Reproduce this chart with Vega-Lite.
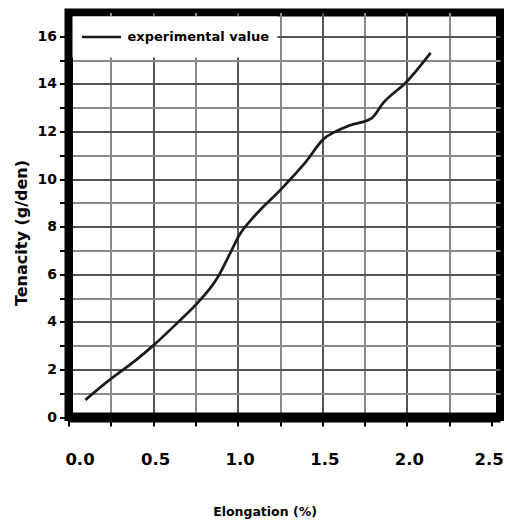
{
  "$schema": "https://vega.github.io/schema/vega-lite/v6.json",
  "width": 431.5,
  "height": 404.5,
  "autosize": {"type": "none"},
  "padding": {"left": 68.5, "top": 12.5, "right": 7, "bottom": 107},
  "background": "white",
  "config": {
    "view": {"stroke": "black", "strokeWidth": 8},
    "font": "DejaVu Sans"
  },
  "data": {
    "values": [
      {"elongation": 0.10, "tenacity": 0.72, "series": "experimental value"},
      {"elongation": 0.25, "tenacity": 1.6, "series": "experimental value"},
      {"elongation": 0.40, "tenacity": 2.4, "series": "experimental value"},
      {"elongation": 0.50, "tenacity": 3.0, "series": "experimental value"},
      {"elongation": 0.65, "tenacity": 4.0, "series": "experimental value"},
      {"elongation": 0.75, "tenacity": 4.7, "series": "experimental value"},
      {"elongation": 0.88, "tenacity": 5.85, "series": "experimental value"},
      {"elongation": 0.96, "tenacity": 6.95, "series": "experimental value"},
      {"elongation": 1.01, "tenacity": 7.65, "series": "experimental value"},
      {"elongation": 1.10, "tenacity": 8.45, "series": "experimental value"},
      {"elongation": 1.26, "tenacity": 9.6, "series": "experimental value"},
      {"elongation": 1.40, "tenacity": 10.7, "series": "experimental value"},
      {"elongation": 1.51, "tenacity": 11.7, "series": "experimental value"},
      {"elongation": 1.58, "tenacity": 12.0, "series": "experimental value"},
      {"elongation": 1.66, "tenacity": 12.25, "series": "experimental value"},
      {"elongation": 1.79, "tenacity": 12.55, "series": "experimental value"},
      {"elongation": 1.86, "tenacity": 13.2, "series": "experimental value"},
      {"elongation": 2.00, "tenacity": 14.1, "series": "experimental value"},
      {"elongation": 2.14, "tenacity": 15.3, "series": "experimental value"}
    ]
  },
  "mark": {"type": "line", "interpolate": "monotone", "strokeWidth": 2.7},
  "encoding": {
    "x": {
      "field": "elongation",
      "type": "quantitative",
      "scale": {"domain": [0, 2.55], "nice": false, "zero": false},
      "axis": {
        "title": "Elongation (%)",
        "values": [0, 0.25, 0.5, 0.75, 1, 1.25, 1.5, 1.75, 2, 2.25, 2.5],
        "labelExpr": "(datum.value * 2) % 1 == 0 ? format(datum.value, '.1f') : ''",
        "labelFlush": false,
        "labelOverlap": false,
        "labelFontSize": 16.5,
        "labelFontWeight": "bold",
        "labelColor": "black",
        "labelPadding": 25,
        "labelOffset": {"condition": [{"test": "datum.value == 0", "value": 11}, {"test": "datum.value == 2.5", "value": -3}], "value": 2},
        "domainColor": "black",
        "domainWidth": 10,
        "tickColor": "black",
        "tickSize": 9,
        "tickWidth": 2,
        "grid": true,
        "gridColor": {"condition": {"test": "(datum.value * 2) % 1 == 0", "value": "#555555"}, "value": "#8a8a8a"},
        "gridOpacity": {"condition": {"test": "datum.value >= 2.5 || datum.value == 0", "value": 0}, "value": 1},
        "gridWidth": 2,
        "titleFontSize": 12.5,
        "titleFontWeight": "bold",
        "titleColor": "black",
        "titleX": 196,
        "titleY": 94,
        "titleAlign": "center",
        "titleBaseline": "middle"
      }
    },
    "y": {
      "field": "tenacity",
      "type": "quantitative",
      "scale": {"domain": [0, 17], "nice": false},
      "axis": {
        "title": "Tenacity (g/den)",
        "values": [0, 1, 2, 3, 4, 5, 6, 7, 8, 9, 10, 11, 12, 13, 14, 15, 16],
        "labelExpr": "datum.value % 2 == 0 ? datum.label : ''",
        "labelFontSize": 14,
        "labelFontWeight": "bold",
        "labelColor": "black",
        "labelPadding": 3,
        "domainColor": "black",
        "domainWidth": 8,
        "tickColor": "black",
        "tickSize": 9,
        "tickWidth": 2,
        "grid": true,
        "gridColor": {"condition": {"test": "datum.value % 2 == 0", "value": "#555555"}, "value": "#8a8a8a"},
        "gridOpacity": {"condition": {"test": "datum.value == 0", "value": 0}, "value": 1},
        "gridWidth": 2,
        "titleFontSize": 16,
        "titleFontWeight": "bold",
        "titleColor": "black",
        "titleX": -47,
        "titleY": 220,
        "titleAngle": -90,
        "titleAlign": "center",
        "titleBaseline": "middle"
      }
    },
    "color": {
      "field": "series",
      "type": "nominal",
      "scale": {"range": ["#1a1a1a"]},
      "legend": {
        "orient": "none",
        "legendX": 4,
        "legendY": 4,
        "title": null,
        "fillColor": "white",
        "padding": 8,
        "symbolType": "stroke",
        "symbolSize": 1521,
        "symbolStrokeWidth": 2.5,
        "clipHeight": 25,
        "labelFontSize": 13,
        "labelFontWeight": "bold",
        "labelColor": "black",
        "labelOffset": 5,
        "labelLimit": 300
      }
    }
  }
}
